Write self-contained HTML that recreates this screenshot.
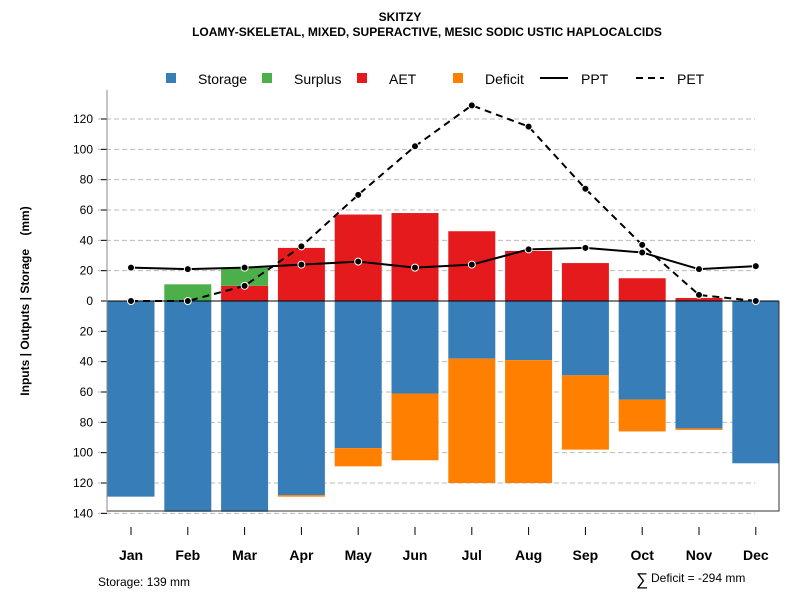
<!DOCTYPE html>
<html><head><meta charset="utf-8"><style>body{margin:0;background:#fff}svg{font-family:"Liberation Sans",sans-serif}</style></head>
<body>
<svg id="c" width="800" height="600" xmlns="http://www.w3.org/2000/svg">
<text x="400" y="21" text-anchor="middle" font-size="12" font-weight="bold">SKITZY</text>
<text x="427" y="36" text-anchor="middle" font-size="12" font-weight="bold">LOAMY-SKELETAL, MIXED, SUPERACTIVE, MESIC SODIC USTIC HAPLOCALCIDS</text>
<g id="legend" font-size="14">
<rect x="166" y="73" width="10" height="10" fill="#377EB8"/><text x="198" y="84">Storage</text>
<rect x="262" y="73" width="10" height="10" fill="#4DAF4A"/><text x="294" y="84">Surplus</text>
<rect x="357" y="73" width="10" height="10" fill="#E41A1C"/><text x="389" y="84">AET</text>
<rect x="453" y="73" width="10" height="10" fill="#FF7F00"/><text x="485" y="84">Deficit</text>
<line x1="540" y1="78" x2="568" y2="78" stroke="#000" stroke-width="2"/><text x="581" y="84">PPT</text>
<line x1="636" y1="78" x2="664" y2="78" stroke="#000" stroke-width="2" stroke-dasharray="7,5"/><text x="677" y="84">PET</text>
</g>
<g id="grid"></g><g id="bars"></g><g id="axes"></g><g id="lines"></g>
<text x="98" y="586" font-size="12">Storage: 139 mm</text>
<text x="636" y="585" font-size="17">∑</text>
<text x="651" y="582" font-size="12">Deficit = -294 mm</text>
</svg>
<script>
const months=["Jan","Feb","Mar","Apr","May","Jun","Jul","Aug","Sep","Oct","Nov","Dec"];
const storage=[129,139,139,128,97,61,38,39,49,65,84,107];
const deficit=[0,0,0,1,12,44,82,81,49,21,1,0];
const aet=[0,0,10,35,57,58,46,33,25,15,2,0];
const surplus=[0,11,12,0,0,0,0,0,0,0,0,0];
const ppt=[22,21,22,24,26,22,24,34,35,32,21,23];
const pet=[0,0,10,36,70,102,129,115,74,37,4,0];
const yTicks=[120,100,80,60,40,20,0,-20,-40,-60,-80,-100,-120,-140];
const NS="http://www.w3.org/2000/svg";
const y=v=>301-v*1.5167;
const x=i=>131+i*56.8;
const bw=47;
function mk(p,t,a){const e=document.createElementNS(NS,t);for(const k in a)e.setAttribute(k,a[k]);document.getElementById(p).appendChild(e);return e;}
yTicks.forEach(v=>{
 if(v!==0){const g=mk('grid','line',{x1:98,x2:755,y1:y(v),y2:y(v),stroke:'#bbb','stroke-dasharray':'5,3'});
 
 }
 const t=mk('axes','line',{x1:101,x2:107,y1:y(v),y2:y(v),stroke:'#000'});
 
 
 const l=mk('axes','text',{x:93,y:y(v)+4,'text-anchor':'end','font-size':12});
 l.textContent=Math.abs(v);
 
 
});
months.forEach((m,i)=>{
 const cx=x(i),l=cx-bw/2;
 let r=mk('bars','rect',{x:l,y:y(0),width:bw,height:storage[i]*1.5167,fill:'#377EB8'});
 
 
 if(deficit[i]>0){r=mk('bars','rect',{x:l,y:y(-storage[i]),width:bw,height:deficit[i]*1.5167,fill:'#FF7F00'});
 
 }
 if(aet[i]>0){r=mk('bars','rect',{x:l,y:y(aet[i]),width:bw,height:aet[i]*1.5167,fill:'#E41A1C'});
 
 }
 if(surplus[i]>0){r=mk('bars','rect',{x:l,y:y(aet[i]+surplus[i]),width:bw,height:surplus[i]*1.5167,fill:'#4DAF4A'});
 
 }
 const t=mk('axes','line',{x1:cx,x2:cx,y1:527,y2:535,stroke:'#000'});
 
 
 const lb=mk('axes','text',{x:cx,y:560,'text-anchor':'middle','font-size':14,'font-weight':'bold'});
 lb.textContent=m;
 
 
});
let a=mk('axes','line',{x1:107,x2:779,y1:301,y2:301,stroke:'#000'});


a=mk('axes','path',{d:'M107,301 V511 H779 V301',fill:'none',stroke:'#333'});


a=mk('axes','line',{x1:107,x2:107,y1:90,y2:511,stroke:'#888'});


a=mk('axes','text',{transform:'translate(29,301) rotate(-90)','text-anchor':'middle','font-size':12,'font-weight':'bold'});
a.textContent='Inputs | Outputs | Storage\u00a0\u00a0\u00a0\u00a0(mm)';


[[ppt,'',"ppt"],[pet,'7,5',"pet"]].forEach(([s,d,n])=>{
 const p=mk('lines','path',{d:s.map((v,i)=>(i?'L':'M')+x(i)+','+y(v)).join(''),fill:'none',stroke:'#000','stroke-width':2,'stroke-dasharray':d});
 
 
 s.forEach((v,i)=>{const c=mk('lines','circle',{cx:x(i),cy:y(v),r:3.5,fill:'#000',stroke:'#fff','stroke-width':1});
 
 });
});
</script>
</body></html>
